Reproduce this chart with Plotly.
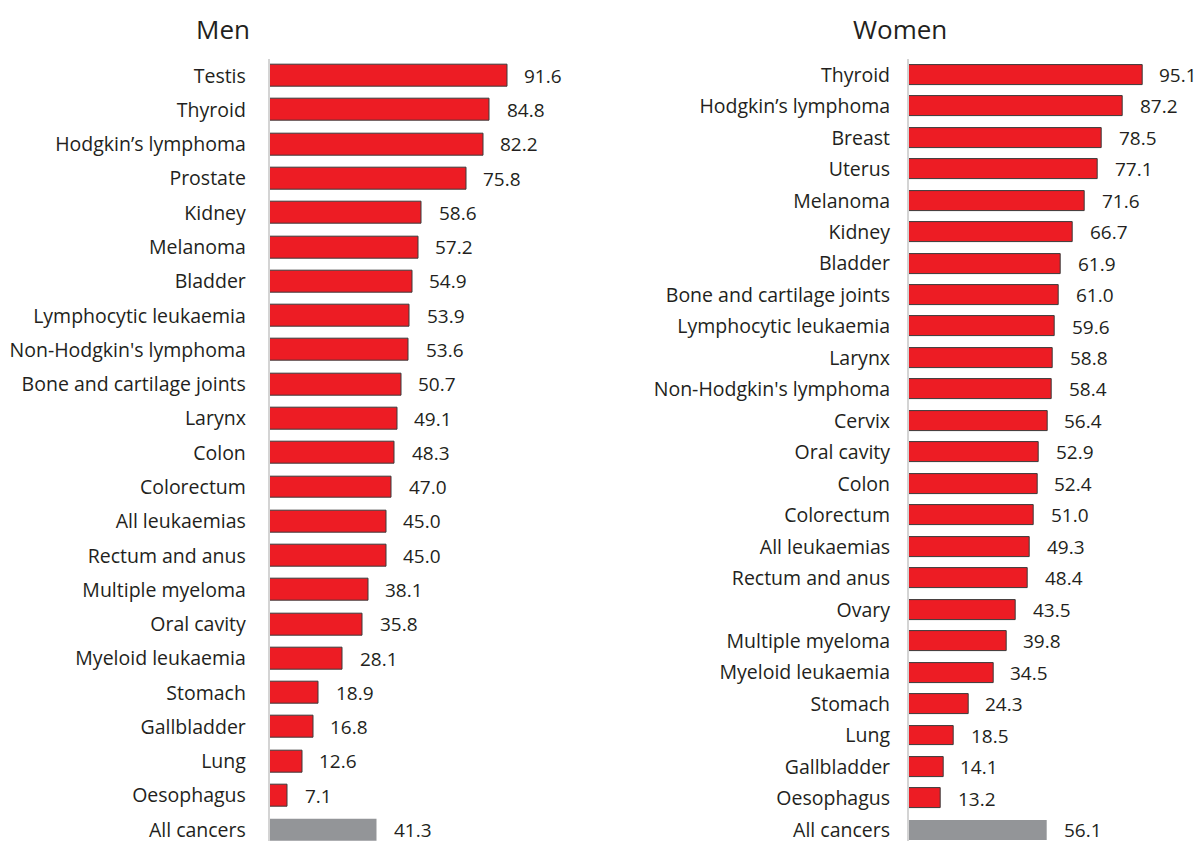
import plotly.graph_objects as go

W, H = 1196, 843

men_labels = [
    "Testis", "Thyroid", "Hodgkin’s lymphoma", "Prostate", "Kidney", "Melanoma",
    "Bladder", "Lymphocytic leukaemia", "Non-Hodgkin's lymphoma",
    "Bone and cartilage joints", "Larynx", "Colon", "Colorectum",
    "All leukaemias", "Rectum and anus", "Multiple myeloma", "Oral cavity",
    "Myeloid leukaemia", "Stomach", "Gallbladder", "Lung", "Oesophagus",
    "All cancers",
]
men_values = [91.6, 84.8, 82.2, 75.8, 58.6, 57.2, 54.9, 53.9, 53.6, 50.7, 49.1,
              48.3, 47.0, 45.0, 45.0, 38.1, 35.8, 28.1, 18.9, 16.8, 12.6, 7.1,
              41.3]

women_labels = [
    "Thyroid", "Hodgkin’s lymphoma", "Breast", "Uterus", "Melanoma", "Kidney",
    "Bladder", "Bone and cartilage joints", "Lymphocytic leukaemia", "Larynx",
    "Non-Hodgkin's lymphoma", "Cervix", "Oral cavity", "Colon", "Colorectum",
    "All leukaemias", "Rectum and anus", "Ovary", "Multiple myeloma",
    "Myeloid leukaemia", "Stomach", "Lung", "Gallbladder", "Oesophagus",
    "All cancers",
]
women_values = [95.1, 87.2, 78.5, 77.1, 71.6, 66.7, 61.9, 61.0, 59.6, 58.8,
                58.4, 56.4, 52.9, 52.4, 51.0, 49.3, 48.4, 43.5, 39.8, 34.5,
                24.3, 18.5, 14.1, 13.2, 56.1]

RED = "#ED1C24"
GREY = "#939598"
EDGE = "#3a3a3a"
TEXT = "#231F20"
FONT = "Open Sans"


def px_x(p):
    return p / W


def px_y(p):
    return 1 - p / H


fig = go.Figure()

panels = [
    # labels, values, axis suffix, x0 px, px per unit, first row centre, row pitch, bar height px, label gap
    (men_labels, men_values, "", 269.5, 2.598, 76.0, 34.36, 22, 18),
    (women_labels, women_values, "2", 908.7, 2.457, 75.0, 31.54, 20, 13),
]

for labels, values, ax, x0, scale, y_first, pitch, bar_h, gap in panels:
    n = len(labels)
    colors = [RED] * (n - 1) + [GREY]
    line_w = [1] * (n - 1) + [0]
    fig.add_trace(go.Bar(
        x=values, y=labels, orientation="h",
        marker=dict(color=colors, line=dict(color=EDGE, width=line_w)),
        width=bar_h / pitch,
        xaxis="x" + ax, yaxis="y" + ax,
        hoverinfo="x+y", showlegend=False,
    ))
    for lab, v in zip(labels, values):
        fig.add_annotation(
            x=v, y=lab, xref="x" + ax, yref="y" + ax,
            text=f"{v:.1f}", showarrow=False, xanchor="left", xshift=15,
            font=dict(family=FONT, size=19, color=TEXT),
        )
    xmax = 100
    x1 = x0 + xmax * scale
    top_px = y_first - pitch / 2
    bottom_idx = (n - 1) + (H - (y_first + (n - 1) * pitch)) / pitch
    layout_x = dict(
        domain=[px_x(x0), px_x(x1)], range=[0, xmax],
        showgrid=False, zeroline=False, showline=False, showticklabels=False,
        ticks="", anchor="y" + ax,
    )
    layout_y = dict(
        domain=[0, px_y(top_px)], range=[bottom_idx, -0.5],
        type="category", categoryorder="array", categoryarray=labels,
        showgrid=False, zeroline=False, showline=True, linecolor="#d4d4d4",
        linewidth=1.5, ticks="", ticklabelstandoff=gap,
        tickfont=dict(family=FONT, size=19.5, color=TEXT),
        anchor="x" + ax,
    )
    fig.layout["xaxis" + ax] = layout_x
    fig.layout["yaxis" + ax] = layout_y

fig.add_annotation(x=px_x(223), y=px_y(29), xref="paper", yref="paper",
                   text="Men", showarrow=False, xanchor="center", yanchor="middle",
                   font=dict(family=FONT, size=26, color=TEXT))
fig.add_annotation(x=px_x(900), y=px_y(29), xref="paper", yref="paper",
                   text="Women", showarrow=False, xanchor="center", yanchor="middle",
                   font=dict(family=FONT, size=26, color=TEXT))

fig.update_layout(
    width=W, height=H,
    margin=dict(l=0, r=0, t=0, b=0),
    paper_bgcolor="white", plot_bgcolor="white",
    bargap=0,
)

fig.write_html("out.html")
